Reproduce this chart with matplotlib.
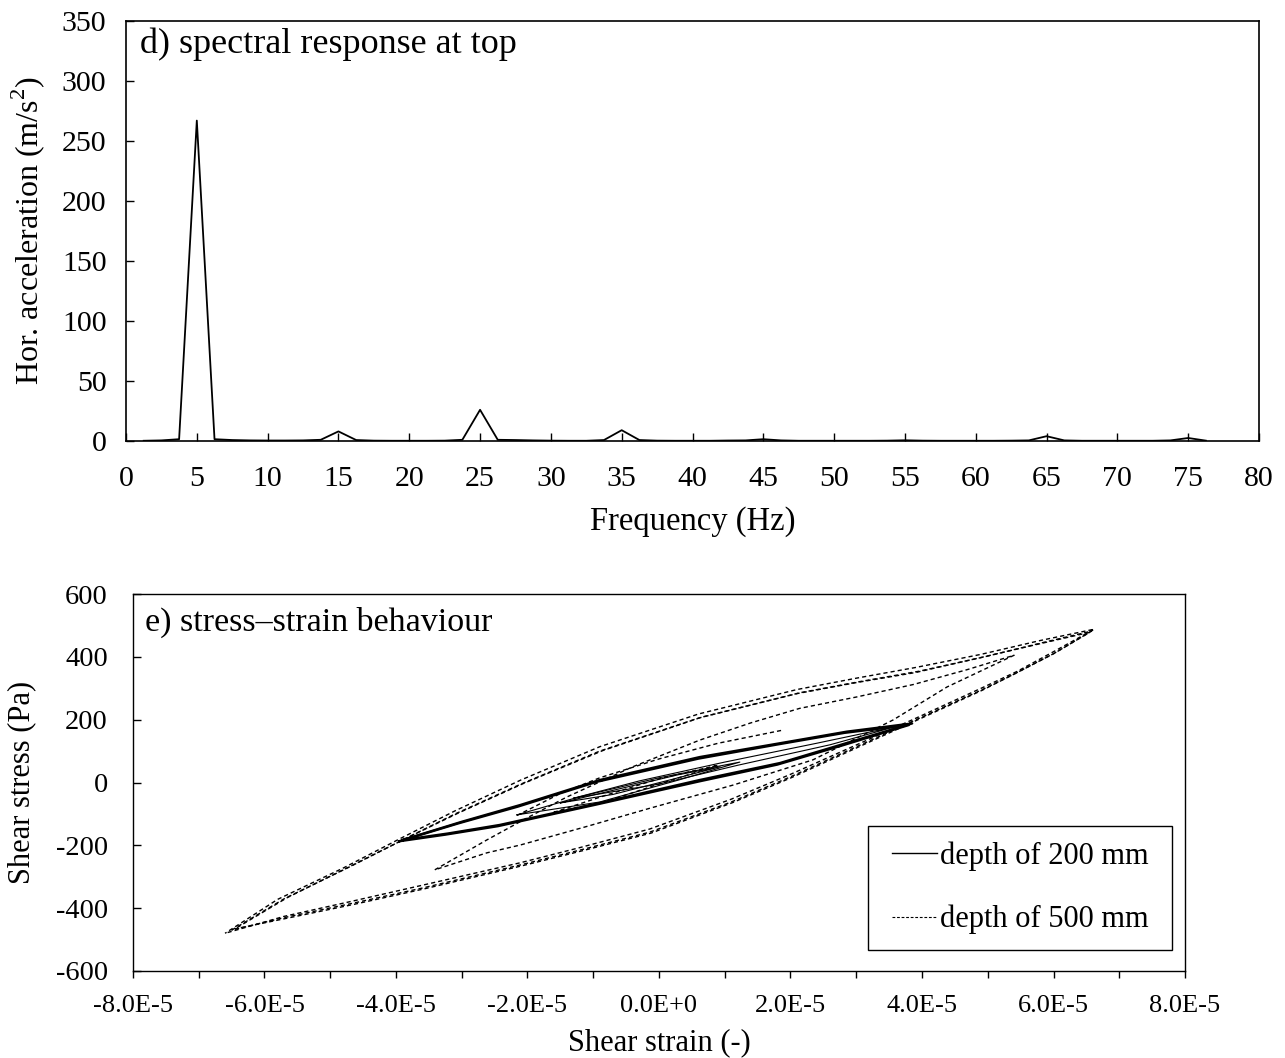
import matplotlib
matplotlib.use("Agg")
import matplotlib.pyplot as plt
from matplotlib.lines import Line2D
from matplotlib.patches import Rectangle
from matplotlib.ticker import MultipleLocator, FixedLocator, FixedFormatter

plt.rcParams['font.family'] = ['Liberation Serif', 'DejaVu Serif']
plt.rcParams['mathtext.fontset'] = 'custom'
plt.rcParams['mathtext.rm'] = 'Liberation Serif'
plt.rcParams['axes.unicode_minus'] = False

# ---------------- data: spectral response (panel d) ----------------
freq_hz = [1.25, 2.5, 3.75, 5.0, 6.25, 7.5, 8.75, 10.0, 11.25, 12.5, 13.75, 15.0, 16.25,
           17.5, 18.75, 20.0, 21.25, 22.5, 23.75, 25.0, 26.25, 27.5, 28.75, 30.0, 31.25,
           32.5, 33.75, 35.0, 36.25, 37.5, 38.75, 40.0, 41.25, 42.5, 43.75, 45.0, 46.25,
           47.5, 48.75, 50.0, 51.25, 52.5, 53.75, 55.0, 56.25, 57.5, 58.75, 60.0, 61.25,
           62.5, 63.75, 65.0, 66.25, 67.5, 68.75, 70.0, 71.25, 72.5, 73.75, 75.0, 76.25]
acc_amp = [0.2, 0.5, 1.5, 267.0, 1.5, 0.8, 0.5, 0.4, 0.4, 0.5, 1.0, 8.0, 0.8,
           0.3, 0.2, 0.2, 0.2, 0.3, 1.0, 26.0, 1.0, 0.8, 0.5, 0.3, 0.2,
           0.2, 0.8, 9.0, 0.8, 0.3, 0.2, 0.2, 0.2, 0.4, 0.5, 1.5, 0.5,
           0.2, 0.2, 0.2, 0.2, 0.2, 0.3, 0.6, 0.3, 0.2, 0.2, 0.2, 0.2,
           0.3, 0.5, 4.0, 0.5, 0.2, 0.2, 0.2, 0.2, 0.2, 0.5, 2.5, 0.3]
freq_ticks = [0, 5, 10, 15, 20, 25, 30, 35, 40, 45, 50, 55, 60, 65, 70, 75, 80]
acc_ticks = [0, 50, 100, 150, 200, 250, 300, 350]

# ---------------- data: stress-strain loops (panel e), strain in 1e-5 ----------------
# depth 500 mm (dashed) - outer cycles
d500_c1_strain = [-6.50, -5.70, -4.70, -3.90, -3.10, -2.10, -0.90, 0.60, 2.10, 3.00, 3.90, 4.90, 5.80, 6.55,
                  6.00, 5.40, 4.90, 3.90, 2.90, 2.00, 1.10, -0.14, -1.20, -2.10, -3.60, -4.65, -5.70, -6.50]
d500_c1_stress = [-470, -370, -268, -183, -100, -5, 100, 205, 283, 318, 350, 398, 442, 478,
                  410, 345, 294, 199, 104, 18, -62, -158, -215, -262, -336, -384, -430, -470]
d500_c2_strain = [-6.60, -5.80, -4.80, -3.95, -3.10, -2.10, -0.90, 0.60, 2.10, 3.00, 3.90, 4.90, 5.80, 6.62,
                  6.05, 5.45, 4.90, 3.90, 2.90, 2.00, 1.10, -0.14, -1.20, -2.10, -3.60, -4.65, -5.70, -6.60]
d500_c2_stress = [-480, -372, -272, -180, -90, 8, 114, 218, 296, 332, 366, 408, 452, 488,
                  422, 354, 300, 204, 110, 26, -53, -148, -207, -255, -327, -377, -426, -480]
d500_c3_strain = [-6.45, -5.65, -4.65, -3.85, -3.05, -2.05, -0.85, 0.65, 2.15, 3.05, 3.95, 4.95, 5.85, 6.58,
                  6.02, 5.42, 4.92, 3.92, 2.92, 2.02, 1.12, -0.12, -1.18, -2.08, -3.58, -4.62, -5.68, -6.45]
d500_c3_stress = [-466, -366, -262, -178, -97, -2, 102, 208, 286, 321, 354, 400, 446, 482,
                  412, 347, 294, 198, 102, 16, -64, -161, -218, -265, -339, -387, -433, -466]
# depth 500 mm - inner cycles
d500_c4_strain = [-3.41, -2.62, -2.00, -1.40, -0.40, 0.62, 1.40, 2.14, 3.00, 3.87, 4.70, 5.40,
                  4.38, 3.56, 2.34, 1.13, -0.14, -1.10, -2.11, -2.62, -3.41]
d500_c4_stress = [-278, -183, -112, -46, 50, 135, 190, 236, 272, 312, 360, 405,
                  304, 199, 72, -8, -82, -140, -199, -224, -278]
d500_c5_strain = [-2.16, -1.50, -0.90, 0.00, 0.90, 1.89]
d500_c5_stress = [-105, -35, 15, 75, 125, 167]
d500_c6_strain = [-1.60, -0.80, 0.00, 0.90, 0.00, -0.80, -1.60]
d500_c6_stress = [-95, -40, 12, 55, -5, -60, -95]

# depth 200 mm (solid) - large cycles
d200_c1_strain = [-3.90, -3.00, -2.10, -0.90, 0.62, 1.84, 2.86, 3.85,
                  2.86, 1.84, 0.62, -0.90, -2.42, -3.20, -3.90]
d200_c1_stress = [-183, -125, -71, 8, 81, 125, 162, 188,
                  126, 62, 8, -65, -135, -162, -183]
d200_c2_strain = [-3.95, -3.05, -2.15, -0.95, 0.60, 1.80, 2.82, 3.80,
                  2.82, 1.80, 0.60, -0.95, -2.45, -3.25, -3.95]
d200_c2_stress = [-187, -130, -77, 2, 76, 121, 158, 183,
                  120, 57, 3, -70, -139, -166, -187]
# depth 200 mm - small cycles
d200_c3_strain = [-2.16, -1.20, 0.00, 1.23, 0.30, -0.90, -2.16]
d200_c3_stress = [-103, -45, 15, 65, 8, -62, -103]
d200_c4_strain = [-1.50, -0.60, 0.30, 0.93, 0.20, -0.70, -1.50]
d200_c4_stress = [-65, -20, 25, 50, 10, -38, -65]
d200_c5_strain = [-1.30, -0.30, 1.00, 2.40, 3.60, 2.60, 1.20, 0.00, -1.30]
d200_c5_stress = [-50, 5, 65, 125, 178, 120, 55, -5, -50]

strain_ticks = [-8.0, -6.0, -4.0, -2.0, 0.0, 2.0, 4.0, 6.0, 8.0]
strain_tick_labels = ['-8.0E-5', '-6.0E-5', '-4.0E-5', '-2.0E-5', '0.0E+0',
                      '2.0E-5', '4.0E-5', '6.0E-5', '8.0E-5']
stress_ticks = [-600, -400, -200, 0, 200, 400, 600]
legend_labels = ['depth of 200 mm', 'depth of 500 mm']

# ---------------- figure ----------------
W, H = 1285, 1058
fig = plt.figure(figsize=(W / 100, H / 100), dpi=100)

def frac(l, t, r, b):
    return [l / W, 1 - b / H, (r - l) / W, (b - t) / H]

# ----- panel d -----
ax1 = fig.add_axes(frac(126, 21, 1259, 441))
ax1.plot(freq_hz, acc_amp, color='black', lw=1.3)
ax1.set_xlim(0, 80)
ax1.set_ylim(0, 350)
ax1.xaxis.set_major_locator(FixedLocator(freq_ticks))
ax1.yaxis.set_major_locator(FixedLocator(acc_ticks))
ax1.tick_params(direction='in', length=6, width=1.0, labelsize=21.5, colors='black')
ax1.tick_params(axis='x', pad=18)
ax1.tick_params(axis='y', pad=14)
for s in ax1.spines.values():
    s.set_linewidth(1.2)
ax1.set_xlabel('Frequency (Hz)', fontsize=23.5, labelpad=10)
ax1.set_ylabel('Hor. acceleration (m/s$^2$)', fontsize=23, labelpad=11)
ax1.text(0.012, 0.985, 'd) spectral response at top', transform=ax1.transAxes,
         ha='left', va='top', fontsize=26)

# ----- panel e -----
ax2 = fig.add_axes(frac(133, 594, 1185, 971))
dlw = 1.0
for xs, ys, off in [(d500_c1_strain, d500_c1_stress, 0.0), (d500_c2_strain, d500_c2_stress, 1.7),
                    (d500_c3_strain, d500_c3_stress, 3.4), (d500_c4_strain, d500_c4_stress, 0.0),
                    (d500_c5_strain, d500_c5_stress, 0.0), (d500_c6_strain, d500_c6_stress, 0.0)]:
    ax2.plot([v * 1e-5 for v in xs], ys, color='black', lw=dlw, linestyle=(off, (3.0, 2.2)))
for xs, ys in [(d200_c1_strain, d200_c1_stress), (d200_c2_strain, d200_c2_stress)]:
    ax2.plot([v * 1e-5 for v in xs], ys, color='black', lw=1.7)
for xs, ys in [(d200_c3_strain, d200_c3_stress), (d200_c4_strain, d200_c4_stress),
               (d200_c5_strain, d200_c5_stress)]:
    ax2.plot([v * 1e-5 for v in xs], ys, color='black', lw=0.8)

ax2.set_xlim(-8e-5, 8e-5)
ax2.set_ylim(-600, 600)
ax2.xaxis.set_major_locator(FixedLocator([v * 1e-5 for v in strain_ticks]))
ax2.xaxis.set_major_formatter(FixedFormatter(strain_tick_labels))
ax2.xaxis.set_minor_locator(MultipleLocator(1e-5))
ax2.tick_params(axis='x', which='both', direction='out', length=5, width=1.0,
                labelsize=19, pad=12)
ax2.tick_params(axis='y', direction='in', length=6, width=1.0, labelsize=20.5, pad=18)
for s in ax2.spines.values():
    s.set_linewidth(1.0)
ax2.set_xlabel('Shear strain (-)', fontsize=22, labelpad=8)
ax2.set_ylabel('Shear stress (Pa)', fontsize=22, labelpad=14)
ax2.text(0.011, 0.965, 'e) stress\u2013strain behaviour', transform=ax2.transAxes,
         ha='left', va='top', fontsize=24.5)

# legend: frame drawn as a rectangle, entries centred inside it
box = Rectangle((0.699, 0.056), 0.289, 0.329, transform=ax2.transAxes,
                facecolor='white', edgecolor='black', lw=1.0, zorder=4)
ax2.add_patch(box)
handles = [Line2D([], [], color='black', lw=1.0),
           Line2D([], [], color='black', lw=0.8, linestyle=(0, (2.5, 1.6)))]
leg = ax2.legend(handles, legend_labels, loc='center',
                 bbox_to_anchor=(0.699 + 0.289 / 2, 0.056 + 0.329 / 2),
                 fontsize=22, frameon=False,
                 handlelength=1.5, handletextpad=0.1, labelspacing=1.12,
                 borderpad=0.0, borderaxespad=0.0)
leg.set_zorder(5)

fig.savefig('out.png', dpi=100)
